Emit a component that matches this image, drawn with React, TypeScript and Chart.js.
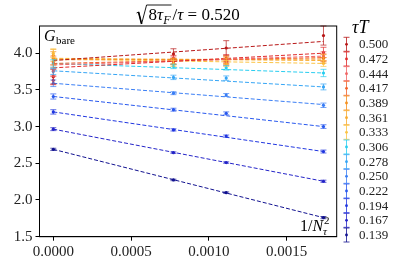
import React, { useEffect, useRef } from 'react';
import { Chart, registerables } from 'chart.js';
Chart.register(...registerables);

// 1/Ntau^2 for continuum, Ntau = 36, 30, 24
const xValues = [0, 0.000772, 0.001111, 0.001736];
const xTicks = [0, 0.0005, 0.001, 0.0015];
const yTicks = [1.5, 2.0, 2.5, 3.0, 3.5, 4.0];
const tauT = ['0.500', '0.472', '0.444', '0.417', '0.389', '0.361', '0.333', '0.306', '0.278', '0.250', '0.222', '0.194', '0.167', '0.139'];
const colors = ['#b81818', '#e02a2a', '#f06464', '#f2622a', '#f5901e', '#f8aa2c', '#fcc445', '#28cdf0', '#35a5f5', '#3a7ef5', '#2858ee', '#2036e0', '#2424c8', '#121290'];

const g500 = [3.68, 3.99, 4.07, 4.24];
const g472 = [3.63, 3.93, 3.93, 4.01];
const g444 = [3.76, 3.9, 3.88, 3.96];
const g417 = [3.88, 3.89, 3.9, 3.94];
const g389 = [3.93, 3.89, 3.91, 3.93];
const g361 = [3.97, 3.88, 3.89, 3.9];
const g333 = [4.0, 3.86, 3.86, 3.86];
const g306 = [3.86, 3.82, 3.8, 3.73];
const g278 = [3.75, 3.67, 3.66, 3.54];
const g250 = [3.59, 3.455, 3.43, 3.29];
const g222 = [3.41, 3.23, 3.18, 3.0];
const g194 = [3.2, 2.955, 2.87, 2.66];
const g167 = [2.965, 2.645, 2.51, 2.255];
const g139 = [2.69, 2.273, 2.1, 1.76];

const e500 = [0.1, 0.07, 0.1, 0.13];
const e472 = [0.06, 0.04, 0.05, 0.07];
const e444 = [0.08, 0.05, 0.05, 0.06];
const e417 = [0.08, 0.04, 0.05, 0.05];
const e389 = [0.09, 0.04, 0.05, 0.05];
const e361 = [0.08, 0.04, 0.04, 0.04];
const e333 = [0.06, 0.04, 0.04, 0.04];
const e306 = [0.05, 0.03, 0.03, 0.05];
const e278 = [0.04, 0.03, 0.03, 0.04];
const e250 = [0.045, 0.02, 0.02, 0.03];
const e222 = [0.035, 0.02, 0.02, 0.025];
const e194 = [0.03, 0.015, 0.015, 0.02];
const e167 = [0.02, 0.01, 0.01, 0.015];
const e139 = [0.015, 0.01, 0.01, 0.015];

// linear fit lines, value at 1/Ntau^2 = 0 and at 1/24^2
const fitStart = [3.9, 3.8, 3.84, 3.86, 3.91, 3.93, 3.92, 3.86, 3.76, 3.59, 3.41, 3.2, 2.965, 2.69];
const fitEnd = [4.16, 4.0, 3.96, 3.94, 3.92, 3.9, 3.86, 3.73, 3.54, 3.3, 3.0, 2.66, 2.255, 1.76];

const series = [g500, g472, g444, g417, g389, g361, g333, g306, g278, g250, g222, g194, g167, g139];
const errors = [e500, e472, e444, e417, e389, e361, e333, e306, e278, e250, e222, e194, e167, e139];

const SERIF = "'Liberation Serif', 'DejaVu Serif', serif";

type Part = { t: string; size: number; italic?: boolean; dy?: number; dx?: number };

function partsWidth(ctx: CanvasRenderingContext2D, parts: Part[]) {
  let w = 0;
  for (const p of parts) {
    ctx.font = `${p.italic ? 'italic ' : ''}${p.size}px ${SERIF}`;
    w += ctx.measureText(p.t).width + (p.dx || 0);
  }
  return w;
}

function drawParts(ctx: CanvasRenderingContext2D, parts: Part[], x: number, y: number) {
  let cx = x;
  for (const p of parts) {
    ctx.font = `${p.italic ? 'italic ' : ''}${p.size}px ${SERIF}`;
    cx += p.dx || 0;
    ctx.fillText(p.t, cx, y + (p.dy || 0));
    cx += ctx.measureText(p.t).width;
  }
  return cx;
}

const overlay = {
  id: 'overlay',
  afterDatasetsDraw(chart: any) {
    const { ctx, scales } = chart;
    const xs = scales.x;
    const ys = scales.y;
    ctx.save();
    ctx.lineWidth = 1;
    series.forEach((vals, s) => {
      ctx.strokeStyle = colors[s];
      ctx.globalAlpha = 0.7;
      vals.forEach((v, i) => {
        const px = xs.getPixelForValue(xValues[i]);
        const top = ys.getPixelForValue(v + errors[s][i]);
        const bot = ys.getPixelForValue(v - errors[s][i]);
        ctx.beginPath();
        ctx.moveTo(px, top);
        ctx.lineTo(px, bot);
        ctx.moveTo(px - 3, top);
        ctx.lineTo(px + 3, top);
        ctx.moveTo(px - 3, bot);
        ctx.lineTo(px + 3, bot);
        ctx.stroke();
      });
    });
    ctx.restore();
  },
  afterDraw(chart: any) {
    const { ctx, chartArea } = chart;
    ctx.save();
    // frame
    ctx.strokeStyle = '#000';
    ctx.lineWidth = 1;
    ctx.strokeRect(chartArea.left, chartArea.top, chartArea.right - chartArea.left, chartArea.bottom - chartArea.top);

    ctx.fillStyle = '#000';
    ctx.textBaseline = 'alphabetic';
    ctx.textAlign = 'left';

    // title: sqrt(8 tau_F)/tau = 0.520
    const inner: Part[] = [
      { t: '8', size: 17 },
      { t: 'τ', size: 17, italic: true },
      { t: 'F', size: 12, italic: true, dy: 4 },
    ];
    const rest: Part[] = [
      { t: '/', size: 17, dx: 1 },
      { t: 'τ', size: 17, italic: true },
      { t: ' = 0.520', size: 17 },
    ];
    const radW = 11;
    const wIn = partsWidth(ctx, inner);
    const wRest = partsWidth(ctx, rest);
    const total = radW + wIn + 2 + wRest;
    const cxm = (chartArea.left + chartArea.right) / 2;
    let tx = cxm - total / 2;
    const base = 20;
    ctx.beginPath();
    ctx.lineWidth = 0.9;
    ctx.moveTo(tx, base - 7);
    ctx.lineTo(tx + 2, base - 8);
    ctx.lineTo(tx + 5, base + 4);
    ctx.lineTo(tx + radW - 1, base - 15);
    ctx.lineTo(tx + radW + wIn + 2, base - 15);
    ctx.stroke();
    ctx.beginPath();
    ctx.lineWidth = 1.6;
    ctx.moveTo(tx + 2, base - 8);
    ctx.lineTo(tx + 5, base + 4);
    ctx.stroke();
    drawParts(ctx, inner, tx + radW + 1, base);
    drawParts(ctx, rest, tx + radW + wIn + 2, base);

    // G_bare
    drawParts(ctx, [
      { t: 'G', size: 16, italic: true },
      { t: 'bare', size: 11, dy: 3, dx: 0.5 },
    ], 44, 41);

    // 1/N_tau^2
    const ex = drawParts(ctx, [
      { t: '1/', size: 16 },
      { t: 'N', size: 16, italic: true },
    ], 300, 231);
    ctx.font = `italic 11px ${SERIF}`;
    ctx.fillText('τ', ex, 235);
    ctx.font = `11px ${SERIF}`;
    ctx.fillText('2', ex + 1, 224);

    // legend
    drawParts(ctx, [
      { t: 'τ', size: 18, italic: true },
      { t: 'T', size: 18, italic: true },
    ], 352, 33);
    const lx = 346.5;
    tauT.forEach((lab, i) => {
      const ly = 44.3 + i * 14.67;
      ctx.strokeStyle = colors[i];
      ctx.fillStyle = colors[i];
      ctx.globalAlpha = 0.8;
      ctx.lineWidth = 1;
      ctx.beginPath();
      ctx.moveTo(lx, ly - 7);
      ctx.lineTo(lx, ly + 7);
      ctx.moveTo(lx - 3, ly - 7);
      ctx.lineTo(lx + 3, ly - 7);
      ctx.moveTo(lx - 3, ly + 7);
      ctx.lineTo(lx + 3, ly + 7);
      ctx.stroke();
      ctx.globalAlpha = 1;
      ctx.beginPath();
      ctx.arc(lx, ly, 1.4, 0, Math.PI * 2);
      ctx.fill();
      ctx.fillStyle = '#222';
      ctx.font = `13px ${SERIF}`;
      ctx.textBaseline = 'middle';
      ctx.fillText(lab, 359, ly + 0.5);
      ctx.textBaseline = 'alphabetic';
    });
    ctx.restore();
  },
};

export default function App() {
  const ref = useRef<HTMLCanvasElement | null>(null);
  useEffect(() => {
    document.body.style.margin = '0';
    const canvas = ref.current!;
    Chart.defaults.font.family = SERIF;
    const datasets: any[] = [];
    series.forEach((vals, s) => {
      datasets.push({
        type: 'line',
        data: [
          { x: xValues[0], y: fitStart[s] },
          { x: xValues[xValues.length - 1], y: fitEnd[s] },
        ],
        borderColor: colors[s],
        borderWidth: 1,
        borderDash: [4, 2],
        pointRadius: 0,
        fill: false,
      });
      datasets.push({
        type: 'scatter',
        data: vals.map((v, i) => ({ x: xValues[i], y: v })),
        backgroundColor: colors[s],
        borderWidth: 0,
        pointRadius: 1.6,
      });
    });
    const chart = new Chart(canvas, {
      type: 'scatter',
      data: { datasets },
      options: {
        animation: false,
        responsive: false,
        events: [],
        layout: { padding: { left: 0, top: 26, right: 60.3, bottom: 0 } },
        plugins: { legend: { display: false }, tooltip: { enabled: false }, title: { display: false } },
        scales: {
          x: {
            type: 'linear',
            min: -0.0000887,
            max: 0.001821,
            afterBuildTicks: (s: any) => { s.ticks = xTicks.map((v) => ({ value: v })); },
            afterFit: (s: any) => { s.height = 27.3; },
            ticks: {
              color: '#222',
              font: { size: 15, family: SERIF },
              padding: 2,
              maxRotation: 0,
              callback: (v: any) => Number(v).toFixed(4),
            },
            grid: { drawOnChartArea: false, drawTicks: true, tickLength: 4, color: '#000' },
            border: { display: true, color: '#000' },
          },
          y: {
            type: 'linear',
            min: 1.5,
            max: 4.37,
            afterBuildTicks: (s: any) => { s.ticks = yTicks.map((v) => ({ value: v })); },
            afterFit: (s: any) => { s.width = 39.5; },
            ticks: {
              color: '#222',
              font: { size: 15, family: SERIF },
              padding: 3,
              callback: (v: any) => Number(v).toFixed(1),
            },
            grid: { drawOnChartArea: false, drawTicks: true, tickLength: 4, color: '#000' },
            border: { display: true, color: '#000' },
          },
        },
      },
      plugins: [overlay],
    });
    return () => chart.destroy();
  }, []);
  return (
    <div style={{ position: 'absolute', left: 0, top: 0, width: 397, height: 264 }}>
      <canvas ref={ref} width={397} height={264} style={{ width: 397, height: 264, display: 'block' }} />
    </div>
  );
}
